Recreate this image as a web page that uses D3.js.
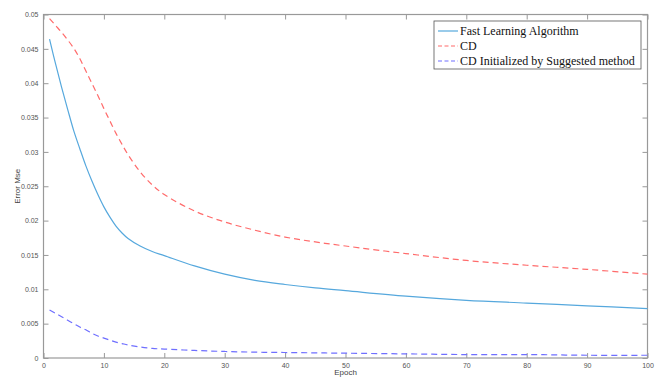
<!DOCTYPE html>
<html>
<head>
<meta charset="utf-8">
<script src="https://cdn.jsdelivr.net/npm/d3@7"></script>
<style>
  body { margin: 0; background: #fff; }
  svg { display: block; }
  .tick text { fill: #555; font-family: "Liberation Sans", Arial, sans-serif; font-size: 7px; }
</style>
</head>
<body>
<svg id="chart" width="660" height="378"></svg>
<script>
/**
 * Training error per epoch for three methods (MATLAB style figure).
 */

const epochs = [1, 2, 3, 4, 5, 6, 7, 8, 9, 10, 11, 12, 13, 14, 16, 18, 20, 25, 30, 35, 40, 45, 50, 60, 70, 80, 90, 100];

const fastLearning = [0.0464, 0.0428, 0.0394, 0.0362, 0.0331, 0.0305, 0.0280, 0.0258, 0.0238, 0.0220, 0.0205, 0.0192, 0.0182, 0.0174,
  0.0163, 0.0155, 0.0149, 0.0134, 0.0122, 0.0113, 0.0107, 0.0102, 0.0098, 0.0090, 0.0084, 0.0080, 0.0076, 0.0072];

const cd = [0.0494, 0.0484, 0.0474, 0.0463, 0.0451, 0.0436, 0.0418, 0.0400, 0.0382, 0.0363, 0.0345, 0.0327, 0.0311, 0.0296,
  0.0271, 0.0252, 0.0238, 0.0214, 0.0198, 0.0186, 0.0176, 0.0169, 0.0163, 0.0152, 0.0142, 0.0135, 0.0129, 0.0122];

const cdInit = [0.0070, 0.0065, 0.0060, 0.0055, 0.0050, 0.0045, 0.0041, 0.0036, 0.0032, 0.0029, 0.0026, 0.0023, 0.0021, 0.0019,
  0.0016, 0.0014, 0.0013, 0.0011, 0.00095, 0.00085, 0.0008, 0.00075, 0.0007, 0.0006, 0.0005, 0.0005, 0.0004, 0.0004];

const seriesNames = ["Fast Learning Algorithm", "CD", "CD Initialized by Suggested method"];
const xTicks = [0, 10, 20, 30, 40, 50, 60, 70, 80, 90, 100];
const yTicks = [0, 0.005, 0.01, 0.015, 0.02, 0.025, 0.03, 0.035, 0.04, 0.045, 0.05];

const CONFIG = {
  margin: { top: 14.5, right: 12.5, bottom: 20, left: 43.5 },
  tickLength: 5,
  axisColor: "#999",
  colors: ["#56a8dd", "#ff6b6b", "#6f6fff"],
  dashes: [null, "6,4", "6,4"],
};

const svg = d3.select("#chart");
const width = 660;
const height = 378;
const m = CONFIG.margin;
const innerW = width - m.left - m.right;
const innerH = height - m.top - m.bottom;

const x = d3.scaleLinear().domain([0, 100]).range([m.left, m.left + innerW]);
const y = d3.scaleLinear().domain([0, 0.05]).range([m.top + innerH, m.top]);

// Axes (ticks point inward, like MATLAB's box on)
const fmt = d => d === 0 ? "0" : String(+d.toFixed(3));

const bottomAxis = svg.append("g")
  .attr("transform", `translate(0,${m.top + innerH})`)
  .call(d3.axisBottom(x).tickValues(xTicks).tickSizeInner(-CONFIG.tickLength).tickSizeOuter(0).tickPadding(5).tickFormat(fmt));

const leftAxis = svg.append("g")
  .attr("transform", `translate(${m.left},0)`)
  .call(d3.axisLeft(y).tickValues(yTicks).tickSizeInner(-CONFIG.tickLength).tickSizeOuter(0).tickPadding(5).tickFormat(fmt));

const topAxis = svg.append("g")
  .attr("transform", `translate(0,${m.top})`)
  .call(d3.axisTop(x).tickValues(xTicks).tickSizeInner(-CONFIG.tickLength).tickSizeOuter(0).tickFormat(""));

const rightAxis = svg.append("g")
  .attr("transform", `translate(${m.left + innerW},0)`)
  .call(d3.axisRight(y).tickValues(yTicks).tickSizeInner(-CONFIG.tickLength).tickSizeOuter(0).tickFormat(""));

[bottomAxis, leftAxis, topAxis, rightAxis].forEach(g => {
  g.select(".domain").remove();
  g.selectAll(".tick line").attr("stroke", CONFIG.axisColor);
});

// Plot box
svg.append("rect")
  .attr("x", m.left)
  .attr("y", m.top)
  .attr("width", innerW)
  .attr("height", innerH)
  .attr("fill", "none")
  .attr("stroke", CONFIG.axisColor)
  .attr("stroke-width", 1.2);

// Axis labels
svg.append("text")
  .attr("x", m.left + innerW / 2)
  .attr("y", 375)
  .attr("text-anchor", "middle")
  .style("font-family", "Liberation Sans, Arial, sans-serif")
  .style("font-size", "8px")
  .attr("fill", "#444")
  .text("Epoch");

svg.append("text")
  .attr("transform", `translate(20,${m.top + innerH / 2}) rotate(-90)`)
  .attr("text-anchor", "middle")
  .style("font-family", "Liberation Sans, Arial, sans-serif")
  .style("font-size", "8px")
  .attr("fill", "#444")
  .text("Error Mse");

// Lines
const line = d3.line()
  .x(d => x(d[0]))
  .y(d => y(d[1]))
  .curve(d3.curveCatmullRom.alpha(0.5));

const series = [fastLearning, cd, cdInit];

svg.append("g")
  .selectAll("path")
  .data(series)
  .enter()
  .append("path")
  .attr("d", vals => line(epochs.map((e, i) => [e, vals[i]])))
  .attr("fill", "none")
  .attr("stroke", (d, i) => CONFIG.colors[i])
  .attr("stroke-width", 1.2)
  .attr("stroke-dasharray", (d, i) => CONFIG.dashes[i]);

// Legend
const legend = svg.append("g").attr("transform", "translate(434,21)");

legend.append("rect")
  .attr("width", 207)
  .attr("height", 48)
  .attr("fill", "#fff")
  .attr("stroke", "#555")
  .attr("stroke-width", 0.8);

const rows = legend.selectAll(".row")
  .data(seriesNames)
  .enter()
  .append("g")
  .attr("transform", (d, i) => `translate(0,${10 + i * 15})`);

rows.append("line")
  .attr("x1", 4)
  .attr("x2", 24)
  .attr("stroke", (d, i) => CONFIG.colors[i])
  .attr("stroke-width", 1.2)
  .attr("stroke-dasharray", (d, i) => CONFIG.dashes[i] ? "4,2.5" : null);

rows.append("text")
  .attr("x", 26)
  .attr("y", 4)
  .style("font-family", "Liberation Serif, Times New Roman, serif")
  .style("font-size", "12px")
  .attr("fill", "#111")
  .text(d => d);
</script>
</body>
</html>
